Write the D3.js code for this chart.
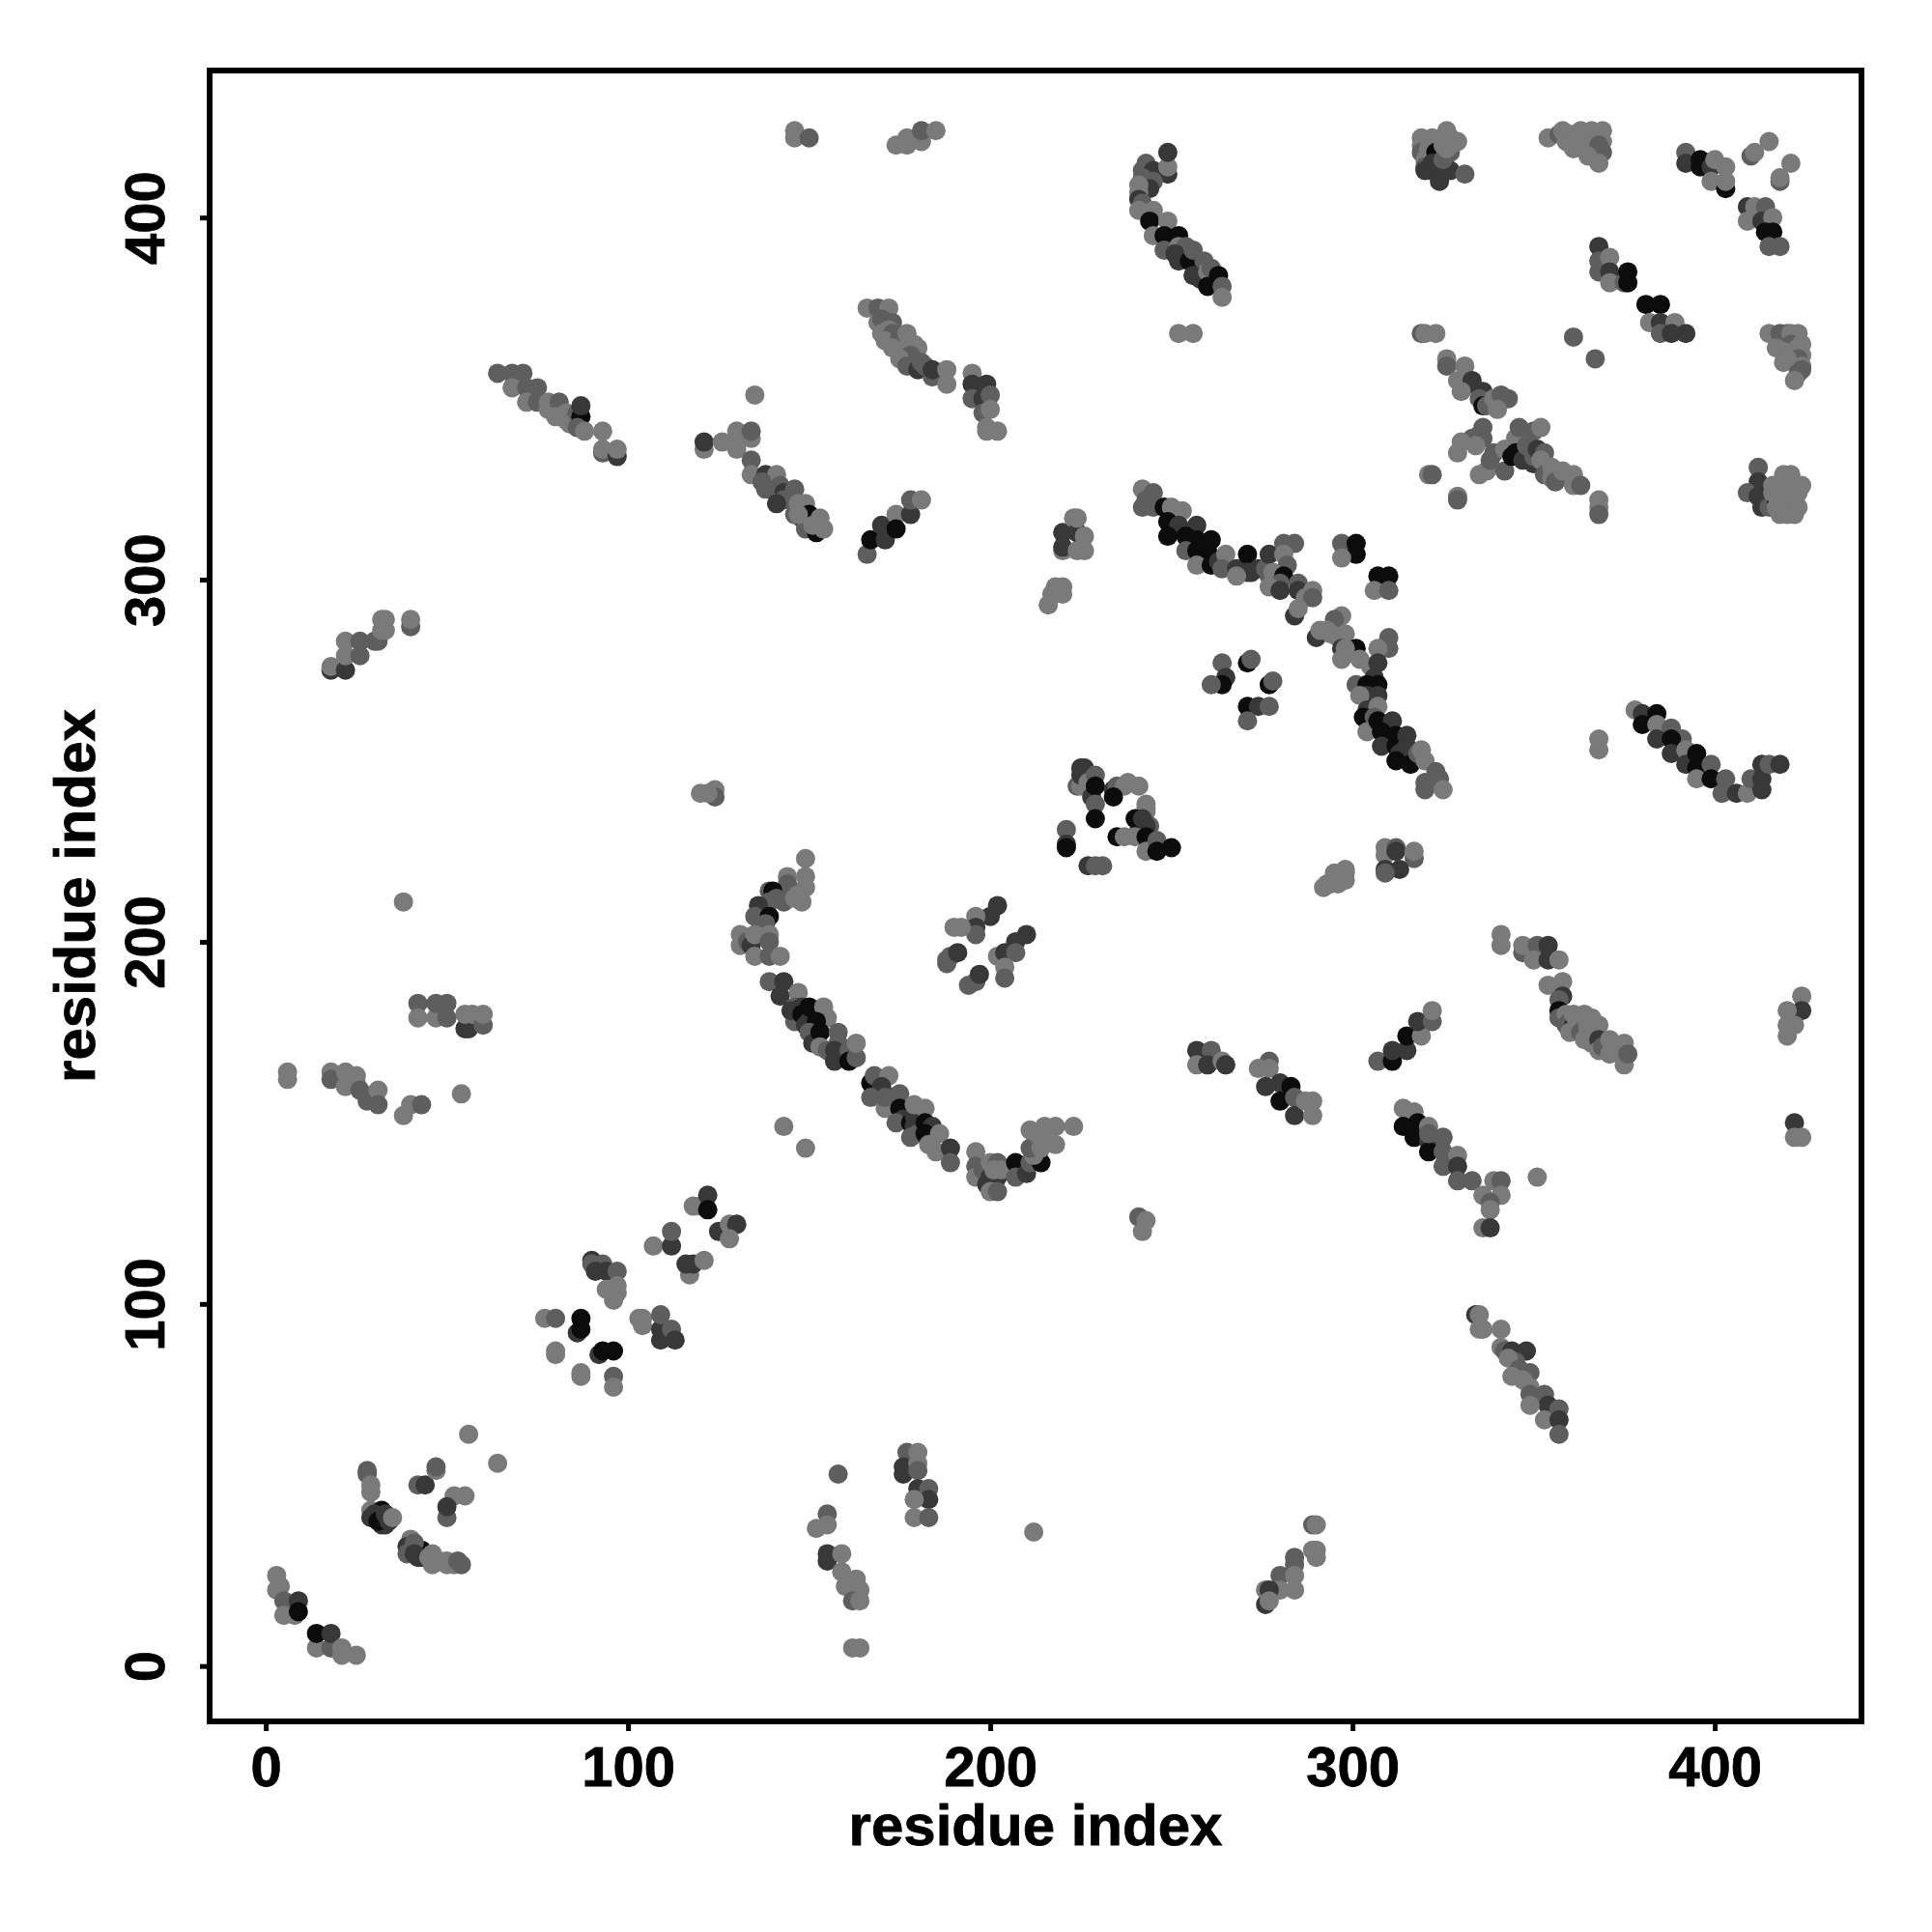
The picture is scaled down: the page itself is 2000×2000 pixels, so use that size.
<!DOCTYPE html>
<html><head><meta charset="utf-8">
<script src="https://cdnjs.cloudflare.com/ajax/libs/d3/7.8.5/d3.min.js"></script>
<style>html,body{margin:0;padding:0;background:#fff}svg{display:block}</style>
</head><body><div id="chart"></div>
<script>
// each row: residue i, residue j, contact strength level (1 weak ... 4 strong)
const lowLeft=[[3,25,1],[4,22,1],[3,21,1],[5,18,2],[5,14,1],[8,14,1],[9,18,3],[9,15,4],[14,5,1],[18,5,2],[14,9,4],[18,9,3],[21,5,1],[21,3,1],[25,3,1],
[28,54,2],[28,53,2],[29,50,1],[29,48,1],[29,43,1],[29,41,3],[32,43,4],[32,39,3],[33,39,3],[30,42,3],[31,40,4],[33,42,3],[34,40,3],[35,41,1],[40,35,1],[39,33,3],[39,31,2],[43,32,4],[42,30,3],[41,34,2],[41,31,3],[43,30,3],[45,30,1],[46,31,1],[46,28,1],[48,29,1],[50,28,1],[50,29,1],[52,28,1],[53,29,2],[54,28,2],[42,50,2],[44,50,3],[47,54,1],[47,55,2],[52,47,1],[55,47,1],[50,41,2],[50,44,3],[56,64,1],[64,56,1]];
const seg80=[[77,96,1],[80,96,2],[87,96,4],[86,92,3],[87,93,4],[80,87,1],[80,86,1],[92,86,3],[93,87,4],[96,87,4],[87,80,1],[87,81,1],[96,80,2],[96,77,1],[103,96,1],[104,96,1],[104,94,1],[109,93,3],[109,90,3],[109,97,2],[112,93,2],[113,90,3],
[90,112,3],[90,111,2],[93,111,2],[91,109,3],[94,109,3],[97,109,2],[97,105,1],[94,104,1],[97,103,1],[96,101,1],[117,108,1],[116,111,3],[118,111,3],[121,112,1],[107,116,1],[112,116,3],[112,120,2],[118,127,1],[120,127,1],[122,130,3],[122,126,4],[125,120,3],[128,122,1],[130,122,3],[128,118,1]];
const ell=[[149,223,1],[149,218,1],[144,218,1],[149,215,1],[144,216,2],[143,211,2],[148,211,1],[144,214,2],[139,214,2],[140,214,4],[139,211,2],[136,210,3],[135,207,2],[139,207,4],[138,205,2],[141,212,2],[146,212,1],[147,213,1],
[131,202,1],[131,199,1],[133,200,2],[134,199,3],[135,202,1],[139,202,1],[139,200,2],[135,196,1],[139,196,2],[142,196,1],
[139,189,2],[142,185,3],[143,189,3],[147,186,1],[146,178,2],[146,182,2],[148,182,3],[145,181,3],[148,180,4],[149,177,3],[150,178,3],[150,182,4],[154,182,1],[155,179,1],[152,178,4],[150,175,2],[151,172,3],[153,175,4],[153,171,1],[155,170,2],[158,175,2],[158,172,2],[157,167,3],[157,170,3],[159,168,3],[161,170,2],[161,167,4],[163,168,2],[163,172,1],
[167,161,4],[168,163,2],[172,163,1],[170,160,3],[173,157,3],[167,157,2],[171,154,1],[171,157,2],[175,158,2],[175,154,4],[176,151,3],[174,150,2],[178,150,4],[179,149,3],[180,147,2],[178,146,2],[179,152,3],[179,155,1],[182,154,1],[182,150,4],[184,149,3],[182,147,4],[186,147,1],[183,144,1],[185,142,1],[189,143,3],[189,139,2],
[196,142,1],[196,138,2],[196,135,1],[198,137,2],[200,139,1],[202,139,2],[200,135,3],[202,135,3],[199,133,3],[201,132,3],[200,131,1],[202,131,2],[201,137,1],[203,137,1],[207,139,4],[207,135,2],[210,136,3],[211,139,2],[214,139,4],[212,141,1],[211,143,2],[214,143,1],[215,145,1],[213,147,1],[211,148,1],[215,149,1],[218,149,1],[218,144,1],[223,149,1],[143,149,1],[149,143,1]];
const mid200=[[202,210,3],[200,207,3],[196,207,1],[196,204,3],[196,202,2],[190,204,1],[192,204,1],[188,194,2],[188,195,2],[189,196,2],[191,197,3],[210,202,3],[207,200,3],[202,196,1],[204,197,3],[207,197,2],[204,193,1],[204,190,2],[194,188,2],[196,189,2],[197,191,3]];
const tri240=[[221,231,2],[221,227,3],[221,226,4],[227,221,3],[229,221,2],[231,221,2],[224,243,2],[225,243,1],[225,246,3],[225,248,3],[226,248,3],[227,244,1],[229,246,2],[228,240,3],[229,243,4],[229,238,2],[229,234,4],[234,242,3],[235,243,2],[237,243,1],[238,244,1],[241,243,1],[234,240,4],[243,238,1],[243,237,1],[243,236,1],[244,232,2],[241,231,2],[243,232,3],[240,234,4],[242,234,3],[235,229,4],[237,229,1],[240,229,1],[243,229,4],[243,225,1],[246,228,2],[246,225,4],[250,226,4],[120,241,1],[124,242,1],[124,240,2],[122,241,1]];
const left=[[18,275,3],[18,276,1],[22,275,3],[22,283,1],[22,279,1],[26,283,2],[26,279,2],[30,283,2],[31,283,2],[32,286,1],[33,286,1],[32,289,1],[33,289,1],[40,287,2],[40,289,1],[38,211,1],
[42,183,2],[42,179,1],[47,179,1],[47,183,2],[50,183,2],[50,179,2],[55,176,3],[56,176,3],[56,179,3],[55,180,1],[57,180,1],[60,177,2],[60,180,1],
[6,164,1],[6,162,1],[18,164,1],[18,162,2],[22,164,1],[22,160,1],[25,161,1],[25,163,1],[26,159,2],[28,156,2],[31,159,1],[31,155,2],[38,152,1],[40,155,1],[43,155,2],[54,158,1]];
const top70=[[64,357,2],[68,357,2],[71,357,2],[68,353,1],[72,353,2],[75,353,2],[72,349,1],[75,349,2],[78,349,1],[78,347,1],[81,349,2],[80,345,1],[83,346,1],[83,344,1],[85,344,2],[84,343,1],[86,346,2],[87,345,4],[87,348,3],[86,342,2],[88,341,1],[93,341,1],[93,335,2],[93,336,1],[97,334,3],[97,336,1],
[121,336,1],[121,338,3],[126,338,1],[130,336,1],[130,339,1],[130,341,1],[134,339,1],[134,341,2],[135,351,1],
[134,333,2],[134,329,1],[138,329,3],[141,329,1],[138,325,2],[137,327,2],[142,326,2],[143,324,3],[146,321,3],[143,322,2],[146,325,2],[141,321,3],[146,318,2],[147,321,1],[148,317,3],[149,321,1],[149,314,2],[150,315,2],[150,318,4],[152,313,4],[147,318,1],[151,315,1],[153,317,1],[154,314,1]];
const top170=[[146,424,1],[146,422,1],[150,422,2],[174,420,1],[177,422,1],[177,420,1],[181,421,1],[181,424,2],[185,424,1],
[166,375,1],[169,375,2],[172,375,1],[169,371,1],[173,371,2],[170,372,2],[170,368,1],[172,369,1],[173,368,2],[171,366,1],[175,367,2],[177,368,1],[173,364,1],[177,364,1],[179,365,1],[180,364,1],[178,362,2],[175,361,1],[177,359,2],[180,358,3],[181,360,2],[182,359,2],[184,356,2],[184,358,3],[188,358,1],[188,354,1],
[195,357,1],[195,354,3],[199,354,3],[195,350,2],[198,350,3],[200,351,2],[198,346,2],[200,347,1],[199,342,1],[199,341,1],[202,341,1],
[166,307,2],[167,311,4],[170,315,3],[171,311,3],[174,318,1],[174,314,4],[178,318,3],[178,322,2],[181,322,1],
[220,308,1],[220,313,3],[220,309,3],[223,317,1],[224,313,3],[224,317,1],[226,312,1],[224,308,1],[226,308,1],[218,298,1],[220,298,1],[216,293,1],[218,296,1],[217,296,1],[219,297,1],[220,296,1]];
const top245=[[242,413,2],[243,415,2],[245,413,3],[249,412,3],[249,414,1],[249,418,3],[245,410,2],[242,411,2],[244,408,3],[241,409,1],[241,407,1],[241,405,3],[242,404,2],[241,402,1],[245,402,1],[244,399,4],[249,399,1],[245,395,1],[248,395,4],[252,395,4],[248,391,2],[252,388,3],[252,392,1],[254,392,2],[251,390,3],[255,388,4],[256,391,2],[259,388,2],[256,384,3],[258,383,3],[260,385,1],[261,386,2],[263,384,4],[260,381,4],[264,381,2],[264,378,1],[252,368,1],[256,368,1]];
const cross=[[242,325,1],[245,324,2],[243,322,2],[242,320,2],[245,320,2],[248,320,4],[250,320,1],[253,319,1],[249,316,4],[252,315,3],[257,315,3],[249,312,4],[254,312,4],[255,310,4],[257,311,4],[261,311,4],[259,309,4],[254,308,2],[257,308,4],[260,308,4],[257,304,1],[261,304,4],[263,305,3],[265,307,1],[264,303,2],[268,303,3],[271,307,4],[272,302,3],[271,302,3],[268,301,1],[274,303,3],[276,303,2],
[277,307,3],[281,310,2],[284,310,2],[281,307,1],[282,304,2],[277,301,2],[278,302,1],[281,301,4],[280,299,2],[277,298,1],[280,297,3],[285,299,2],[285,297,3],[287,295,1],[289,297,1],[289,295,2],[284,290,3],[285,292,1],
[297,290,1],[295,289,2],[290,284,3],[291,286,1],[293,286,1],[294,285,1],[296,284,1],[298,285,1],[297,281,3],[301,281,4],[298,281,1],[297,278,1],[302,278,1],[305,276,1],[301,271,2],[306,273,3],[304,271,4],[307,271,4],[304,268,3],[307,268,3],[302,268,1],[304,264,3],[307,265,1],[303,262,4],[304,261,4],[306,262,2],[304,258,1],[307,261,4],[311,261,3],[308,258,4],[312,257,4],[309,256,4],[308,254,3],[312,254,4],[315,257,3],[315,254,3],[313,252,3],[312,250,4],[316,249,4],[318,252,2],[319,253,1],[320,250,1],[323,247,2],[320,244,2],[324,245,2],[320,242,2],[325,242,1],
[297,310,2],[301,310,4],[301,307,4],[297,306,1],[307,301,4],[310,301,4],[306,297,1],[310,297,2],[310,284,2],[310,281,2],[307,281,1],[307,277,3],
[264,277,2],[265,273,3],[264,271,4],[261,271,2],[271,277,4],[272,278,2],[277,271,4],[278,272,2],[271,265,4],[274,265,3],[277,265,2],[271,261,2],
[292,215,1],[293,216,1],[294,216,1],[296,218,1],[296,216,1],[295,219,1],[298,219,1],[298,220,1],[298,217,1],[309,226,1],[309,224,1],[312,226,2],[312,225,3],[317,223,2],[317,225,1],[309,220,3],[313,220,3],[309,219,2]];
const topRight=[[319,422,1],[319,420,1],[319,418,2],[320,416,1],[320,414,2],[320,413,3],[322,422,1],[321,419,1],[323,421,1],[323,418,4],[322,415,3],[322,413,3],[324,413,3],[324,410,3],[326,424,1],[327,418,2],[327,413,3],[325,416,2],[325,420,1],[327,420,1],[326,419,1],[327,422,1],[329,421,1],[331,412,2],
[319,368,2],[320,368,1],[323,368,1],[326,361,1],[326,359,2],[331,359,1],[329,355,1],[333,355,3],[333,354,3],[330,352,1],[336,352,3],[335,350,2],[336,348,4],[337,348,2],[339,350,1],[340,349,1],[343,350,2],[341,351,2],[340,347,1],[336,342,2],[335,340,2],[336,339,2],[333,339,2],[334,337,1],[330,338,1],[329,335,1],
[321,329,1],[322,329,2],[329,323,1],[329,322,2],[335,329,1],[337,330,1],[338,333,2],[339,335,2],[342,330,2],[342,336,1],[344,336,1],[347,338,1],[347,341,1],[350,341,2],[352,342,1],[345,339,1],[346,342,2],[344,334,4],[345,335,4],[347,333,3],[348,337,2],[350,332,3],[350,334,2],[351,336,3],[353,335,2],[352,333,1],[353,329,2],[355,331,1],[355,328,1],[357,329,1],[356,327,2],[358,330,1],[361,329,1],[361,326,1],[363,326,2],[368,322,1],[368,320,1],[368,318,2],
[354,422,1],[357,423,2],[358,424,1],[360,423,1],[359,421,1],[361,421,1],[361,419,1],[362,422,1],[363,424,1],[363,420,1],[365,422,1],[366,424,1],[367,423,1],[369,424,1],[366,419,1],[368,422,1],[369,421,1],[368,419,1],[368,420,2],[368,417,2],[369,418,2],[368,415,1],[365,417,1],
[392,418,2],[392,415,3],[396,416,4],[396,414,4],[399,414,3],[400,416,1],[399,410,1],[403,414,1],[403,408,4],[403,410,1],[410,417,2],[411,418,1],[415,421,1],[418,410,2],[418,411,1],[421,415,1],
[409,403,3],[411,403,1],[414,403,2],[409,399,1],[413,399,3],[416,400,1],[414,396,4],[416,396,4],[415,392,2],[418,392,2],
[368,392,3],[368,388,2],[368,385,2],[371,389,1],[371,385,3],[371,382,1],[375,382,2],[376,385,4],[376,382,4],[381,376,4],[385,376,4],[382,371,1],[385,371,3],[389,371,1],[385,368,2],[388,368,3],[392,368,3],[361,367,2],[367,361,2],
[415,368,1],[418,368,2],[420,368,2],[421,368,1],[423,368,1],[422,367,1],[423,366,1],[421,365,2],[424,365,1],[417,364,1],[423,364,1],[419,363,1],[421,362,1],[424,362,1],[423,361,2],[420,361,1],[419,360,1],[424,359,1],[424,358,2],[423,357,2],[422,355,1],
[412,331,2],[412,327,3],[409,324,2],[412,323,3],[413,320,3],[415,323,3],[415,320,2],[416,326,1],[417,322,4],[416,324,1],[417,320,1],[419,329,1],[419,326,1],[420,323,1],[419,320,1],[420,318,1],[421,329,1],[424,326,1],[421,326,1],[418,318,1],[422,322,1],[422,318,1],[423,320,1],[423,324,1]];
const right380=[[378,264,1],[380,263,3],[384,263,4],[380,260,4],[384,260,1],[388,259,2],[391,256,2],[384,256,3],[388,256,4],[388,252,3],[392,253,1],[392,249,3],[395,252,4],[395,248,4],[399,249,2],[395,245,1],[399,245,4],[403,245,2],[402,241,2],[406,241,3],[409,241,1],[410,245,2],[413,249,3],[413,245,3],[413,242,3],[415,249,2],[418,249,3],[368,256,1],[368,253,1]];
const lower=[[341,202,1],[341,199,1],[347,197,2],[347,199,1],[351,199,2],[354,199,3],[350,195,1],[354,195,3],[357,195,1],
[354,188,1],[358,189,1],[358,185,3],[357,184,2],[357,181,4],[357,179,2],[359,180,1],[359,177,2],[360,178,2],[361,177,3],[360,175,1],[361,180,1],[362,178,1],[364,180,1],[363,175,2],[364,173,1],[365,177,1],[365,175,1],[366,179,1],[366,172,1],[368,177,1],[368,173,3],[368,170,1],[369,171,2],[371,173,1],[371,169,1],[372,170,1],[375,172,1],[375,166,1],[376,169,2],
[307,167,2],[311,167,4],[311,170,3],[315,170,3],[315,174,4],[319,174,1],[318,178,3],[322,178,2],[322,181,1],
[314,154,1],[317,153,1],[314,149,4],[318,150,4],[317,146,4],[321,149,1],[321,145,3],[321,142,4],[321,147,2],[325,146,2],[325,142,2],[329,141,1],[325,138,2],[329,138,3],[329,134,2],[333,134,2],[336,130,1],[339,134,1],[341,134,2],[341,130,1],[338,128,2],[338,126,1],[336,121,1],[338,121,3],[351,135,1],
[424,185,1],[424,181,3],[420,181,1],[422,177,1],[420,177,1],[420,174,1],[422,150,3],[422,146,1],[424,146,1],
[257,170,3],[261,170,2],[257,166,1],[260,166,3],[264,167,1],[265,166,3],[277,167,2],[277,165,1],[274,165,1],[276,160,3],[280,161,3],[283,160,4],[280,156,4],[284,157,2],[284,152,3],[287,156,1],[289,156,1],[289,152,1]];
const bottom=[[334,97,3],[335,97,1],[335,93,1],[336,93,1],[341,93,1],[341,88,1],[342,87,2],[344,87,3],[348,87,3],[345,84,2],[343,85,1],[346,82,2],[344,80,1],[349,81,2],[347,79,1],[349,77,1],[349,75,2],[350,74,2],[353,75,2],[354,72,3],[349,72,1],[353,68,1],[357,71,2],[357,68,3],[357,64,2],
[158,53,2],[155,42,2],[152,38,1],[155,39,1],[155,31,3],[155,29,3],[159,31,1],[159,26,1],[160,22,1],[163,24,1],[164,21,1],[162,18,2],[164,18,1],[162,5,1],[164,5,1],
[177,59,2],[180,59,1],[176,55,3],[176,53,3],[180,56,1],[180,54,2],[180,49,3],[183,49,2],[183,46,3],[179,46,1],[179,41,1],[183,41,2],[212,37,1],[241,124,2],[243,123,1],[242,120,1],
[289,39,2],[290,39,1],[289,32,1],[290,32,1],[290,30,1],[284,30,2],[284,28,2],[280,25,2],[284,25,1],[280,21,1],[284,21,1],[276,17,3],[276,21,1],[277,21,3],[277,18,1]];

const axisTicks=[0,100,200,300,400];
const axisTitle="residue index";
const levelColors=["#7a7a7a","#5e5e5e","#383838","#0c0c0c"];

const contacts=[].concat(lowLeft,seg80,ell,mid200,tri240,left,top70,top170,top245,cross,topRight,right380,lower,bottom);

const W=2000,H=2000;
const box={l:217,r:1927,t:73,b:1782};
const x=d3.scaleLinear().domain([-15.5,440.5]).range([box.l,box.r]);
const y=d3.scaleLinear().domain([-15.3,440.6]).range([box.b,box.t]);
const shade=d3.scaleOrdinal().domain([1,2,3,4]).range(levelColors);

const svg=d3.select("#chart").append("svg").attr("width",W).attr("height",H).style("font-family","'Liberation Sans',Arial,sans-serif").style("font-weight","bold");

svg.append("g").selectAll("circle").data(contacts).join("circle")
  .attr("cx",d=>x(d[0])).attr("cy",d=>y(d[1])).attr("r",10).attr("fill",d=>shade(d[2]));

svg.append("rect").attr("x",box.l).attr("y",box.t).attr("width",box.r-box.l).attr("height",box.b-box.t)
  .attr("fill","none").attr("stroke","#000").attr("stroke-width",6);

const xAxis=d3.axisBottom(x).tickValues(axisTicks).tickSize(10).tickPadding(16).tickFormat(d3.format("d"));
const gx=svg.append("g").attr("transform",`translate(0,${box.b})`).call(xAxis);
gx.select(".domain").remove();
gx.selectAll("line").attr("stroke","#000").attr("stroke-width",5);
gx.selectAll("text").attr("fill","#000").attr("stroke","#000").attr("stroke-width",0.8).attr("font-size",58).attr("font-family","'Liberation Sans',Arial,sans-serif").attr("font-weight","bold");

const yAxis=d3.axisLeft(y).tickValues(axisTicks).tickSize(10).tickFormat(d3.format("d"));
const gy=svg.append("g").attr("transform",`translate(${box.l},0)`).call(yAxis);
gy.select(".domain").remove();
gy.selectAll("line").attr("stroke","#000").attr("stroke-width",5);
gy.selectAll("text").attr("fill","#000").attr("stroke","#000").attr("stroke-width",0.8).attr("font-size",58).attr("font-family","'Liberation Sans',Arial,sans-serif").attr("font-weight","bold")
  .attr("dy",null).attr("x",null)
  .attr("text-anchor","middle").attr("transform","translate(-47,0) rotate(-90)");

svg.append("text").attr("x",(box.l+box.r)/2).attr("y",1910).attr("text-anchor","middle").attr("font-size",60).attr("fill","#000").attr("stroke","#000").attr("stroke-width",0.8).text(axisTitle);
svg.append("text").attr("transform",`translate(98,${(box.t+box.b)/2}) rotate(-90)`).attr("text-anchor","middle").attr("font-size",60).attr("fill","#000").attr("stroke","#000").attr("stroke-width",0.8).text(axisTitle);
</script></body></html>
